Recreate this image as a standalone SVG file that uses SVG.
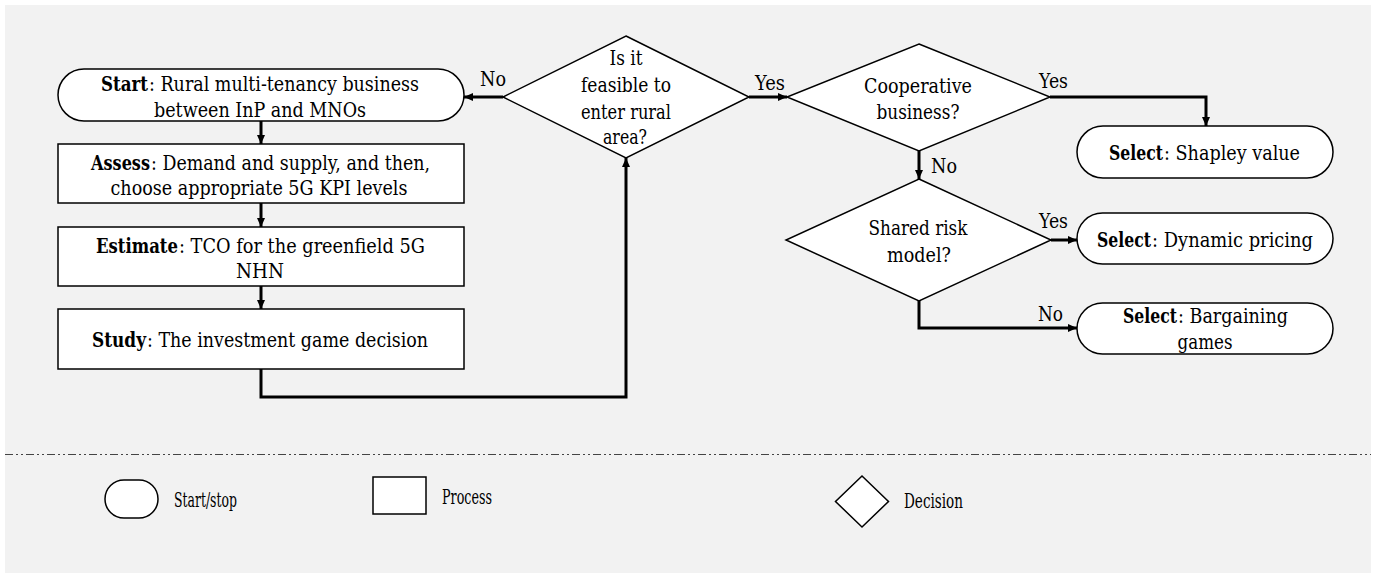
<svg xmlns="http://www.w3.org/2000/svg" width="1384" height="575" viewBox="0 0 1384 575">
<defs>
<style>
.shape{fill:#ffffff;stroke:#000;stroke-width:1.5}
.conn{fill:none;stroke:#000;stroke-width:3}
text{font-family:'DejaVu Serif',serif;fill:#000}
.t{font-size:21px;text-anchor:middle}
.s{font-size:21px;text-anchor:start}
.lbl{font-size:20px}
.leg{font-size:21px}
.b{font-weight:bold}
</style>
<marker id="arr" markerUnits="userSpaceOnUse" markerWidth="10" markerHeight="8" refX="9" refY="4" orient="auto">
<path d="M0,0 L9,4 L0,8 z" fill="#000"/>
</marker>
</defs>
<rect x="0" y="0" width="1384" height="575" fill="#ffffff"/>
<rect x="5" y="5" width="1366" height="568" fill="#f2f2f2"/>

<g id="connectors">
<path class="conn" d="M261,121 V144" marker-end="url(#arr)"/>
<path class="conn" d="M261,203 V227" marker-end="url(#arr)"/>
<path class="conn" d="M261,286 V309" marker-end="url(#arr)"/>
<path class="conn" d="M261,369 V397 H626 V158" marker-end="url(#arr)"/>
<path class="conn" d="M503,97 H464" marker-end="url(#arr)"/>
<path class="conn" d="M749,97 H787" marker-end="url(#arr)"/>
<path class="conn" d="M1050,97 H1206 V126" marker-end="url(#arr)"/>
<path class="conn" d="M919,151 V179" marker-end="url(#arr)"/>
<path class="conn" d="M1051,240 H1077" marker-end="url(#arr)"/>
<path class="conn" d="M919,301 V328 H1077" marker-end="url(#arr)"/>
<text class="lbl" x="480" y="86" textLength="26" lengthAdjust="spacingAndGlyphs">No</text>
<text class="lbl" x="755" y="90" textLength="30" lengthAdjust="spacingAndGlyphs">Yes</text>
<text class="lbl" x="1039" y="88" textLength="29" lengthAdjust="spacingAndGlyphs">Yes</text>
<text class="lbl" x="931" y="173" textLength="26" lengthAdjust="spacingAndGlyphs">No</text>
<text class="lbl" x="1039" y="228" textLength="29" lengthAdjust="spacingAndGlyphs">Yes</text>
<text class="lbl" x="1038" y="321" textLength="25" lengthAdjust="spacingAndGlyphs">No</text>
</g>

<g id="start">
<rect class="shape" x="58" y="69" width="406" height="52" rx="26"/>
<text class="s b" transform="translate(101,91) scale(0.7,1)" textLength="67.1" lengthAdjust="spacingAndGlyphs">Start</text>
<text class="s" transform="translate(149,91) scale(0.8,1)" textLength="337.5" lengthAdjust="spacingAndGlyphs">: Rural multi-tenancy business</text>
<text class="t" x="260" y="117" textLength="212" lengthAdjust="spacingAndGlyphs">between InP and MNOs</text>
</g>

<g id="assess">
<rect class="shape" x="58" y="144" width="406" height="59"/>
<text class="s b" transform="translate(91,170) scale(0.7,1)" textLength="84.3" lengthAdjust="spacingAndGlyphs">Assess</text>
<text class="s" transform="translate(151,170) scale(0.8,1)" textLength="348.8" lengthAdjust="spacingAndGlyphs">: Demand and supply, and then,</text>
<text class="t" x="259" y="195" textLength="297" lengthAdjust="spacingAndGlyphs">choose appropriate 5G KPI levels</text>
</g>

<g id="estimate">
<rect class="shape" x="58" y="227" width="406" height="59"/>
<text class="s b" transform="translate(96,253) scale(0.7,1)" textLength="117.1" lengthAdjust="spacingAndGlyphs">Estimate</text>
<text class="s" transform="translate(179,253) scale(0.8,1)" textLength="307.5" lengthAdjust="spacingAndGlyphs">: TCO for the greenfield 5G</text>
<text class="t" x="260" y="278" textLength="48" lengthAdjust="spacingAndGlyphs">NHN</text>
</g>

<g id="study">
<rect class="shape" x="58" y="309" width="406" height="60"/>
<text class="s b" transform="translate(92,347) scale(0.7,1)" textLength="77.1" lengthAdjust="spacingAndGlyphs">Study</text>
<text class="s" transform="translate(147,347) scale(0.8,1)" textLength="351.3" lengthAdjust="spacingAndGlyphs">: The investment game decision</text>
</g>

<g id="feasible">
<polygon class="shape" points="626,36 749,97 626,158 503,97"/>
<text class="t" x="626" y="65" textLength="33" lengthAdjust="spacingAndGlyphs">Is it</text>
<text class="t" x="626" y="92" textLength="90" lengthAdjust="spacingAndGlyphs">feasible to</text>
<text class="t" x="626" y="119" textLength="90" lengthAdjust="spacingAndGlyphs">enter rural</text>
<text class="t" x="625" y="144" textLength="44" lengthAdjust="spacingAndGlyphs">area?</text>
</g>

<g id="cooperative">
<polygon class="shape" points="919,44 1050,97 919,151 787,97"/>
<text class="t" x="918" y="93" textLength="108" lengthAdjust="spacingAndGlyphs">Cooperative</text>
<text class="t" x="918" y="119" textLength="83" lengthAdjust="spacingAndGlyphs">business?</text>
</g>

<g id="shapley">
<rect class="shape" x="1077" y="126" width="256" height="52" rx="26"/>
<text class="s b" transform="translate(1109,160) scale(0.7,1)" textLength="77.1" lengthAdjust="spacingAndGlyphs">Select</text>
<text class="s" transform="translate(1164,160) scale(0.8,1)" textLength="170" lengthAdjust="spacingAndGlyphs">: Shapley value</text>
</g>

<g id="sharedrisk">
<polygon class="shape" points="919,179 1051,240 919,301 786,240"/>
<text class="t" x="918" y="235" textLength="99" lengthAdjust="spacingAndGlyphs">Shared risk</text>
<text class="t" x="919" y="262" textLength="64" lengthAdjust="spacingAndGlyphs">model?</text>
</g>

<g id="dynamic">
<rect class="shape" x="1077" y="213" width="256" height="51" rx="25.5"/>
<text class="s b" transform="translate(1097,247) scale(0.7,1)" textLength="77.1" lengthAdjust="spacingAndGlyphs">Select</text>
<text class="s" transform="translate(1152,247) scale(0.8,1)" textLength="201.3" lengthAdjust="spacingAndGlyphs">: Dynamic pricing</text>
</g>

<g id="bargaining">
<rect class="shape" x="1077" y="303" width="256" height="51" rx="25.5"/>
<text class="s b" transform="translate(1123,323) scale(0.7,1)" textLength="77.1" lengthAdjust="spacingAndGlyphs">Select</text>
<text class="s" transform="translate(1178,323) scale(0.8,1)" textLength="137.5" lengthAdjust="spacingAndGlyphs">: Bargaining</text>
<text class="t" x="1205" y="349" textLength="55" lengthAdjust="spacingAndGlyphs">games</text>
</g>

<line x1="5" y1="454.5" x2="1371" y2="454.5" stroke="#444" stroke-width="1" stroke-dasharray="8,3,2,3,2,3"/>

<g id="legend-startstop">
<rect class="shape" x="105" y="480" width="53" height="38" rx="19"/>
<text class="leg" x="174" y="507" textLength="63" lengthAdjust="spacingAndGlyphs">Start/stop</text>
</g>
<g id="legend-process">
<rect class="shape" x="373" y="477" width="53" height="37"/>
<text class="leg" x="442" y="504" textLength="50" lengthAdjust="spacingAndGlyphs">Process</text>
</g>
<g id="legend-decision">
<polygon class="shape" points="862,476 888.5,501.5 862,527 835.5,501.5"/>
<text class="leg" x="904" y="508" textLength="59" lengthAdjust="spacingAndGlyphs">Decision</text>
</g>
</svg>
